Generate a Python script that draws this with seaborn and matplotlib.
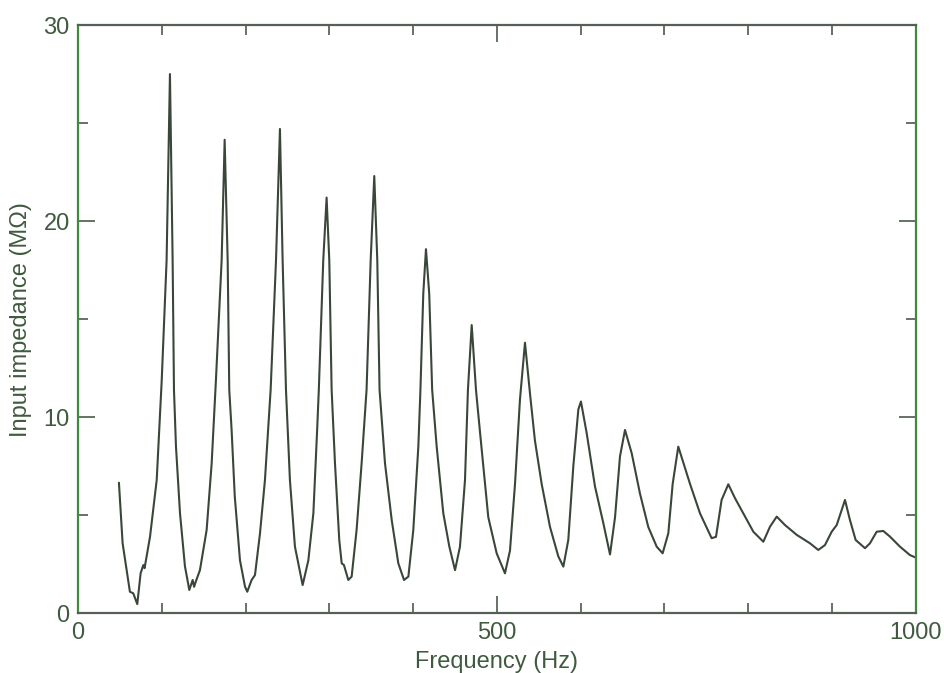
import matplotlib
matplotlib.use("Agg")
import matplotlib.pyplot as plt
from matplotlib.ticker import MultipleLocator, FixedLocator
import seaborn as sns
import pandas as pd

# Measured input impedance of the instrument versus driving frequency
frequency_hz = [
    48.9, 53.3, 62.0, 66.0, 70.8, 74.8, 78.0, 79.5, 86.0, 94.0,
    100.0, 105.8, 109.8, 113.0, 114.6, 117.0, 121.8, 127.7, 132.9, 136.9,
    138.6, 140.5, 145.6, 153.6, 159.6, 164.7, 171.5, 175.1, 178.7, 180.6,
    183.4, 187.2, 193.4, 199.4, 202.1, 207.3, 211.3, 217.3, 223.2, 230.0,
    236.4, 241.1, 244.3, 248.3, 253.0, 259.0, 268.2, 275.0, 281.0, 285.5,
    287.5, 292.8, 296.8, 300.0, 302.8, 306.8, 311.9, 314.8, 317.5, 322.7,
    326.7, 332.6, 338.6, 344.5, 349.4, 353.7, 357.3, 360.0, 366.5, 374.5,
    382.4, 389.2, 394.4, 400.3, 406.3, 408.8, 412.2, 415.4, 419.3, 422.8,
    428.2, 436.1, 443.3, 450.1, 456.0, 462.0, 465.5, 470.0, 475.1, 480.0,
    489.8, 499.8, 509.7, 515.7, 521.7, 527.6, 533.6, 539.6, 545.5, 553.5,
    563.5, 573.4, 579.4, 585.3, 591.3, 597.3, 600.4, 607.2, 617.2, 627.1,
    635.1, 641.1, 647.0, 653.0, 661.0, 670.9, 680.8, 690.8, 697.9, 704.7,
    709.9, 716.6, 726.6, 730.6, 742.5, 756.4, 761.6, 768.3, 776.3, 784.3,
    794.2, 806.2, 818.1, 826.1, 834.1, 844.0, 858.0, 873.8, 883.7, 891.7,
    899.7, 905.7, 910.4, 915.6, 921.5, 928.3, 939.5, 945.4, 953.4, 961.3,
    969.3, 981.2, 993.1, 999.0,
]
impedance_mohm = [
    6.66, 3.57, 1.10, 1.02, 0.47, 2.04, 2.46, 2.30, 3.90, 6.80,
    11.9, 18.0, 27.5, 18.0, 11.4, 8.50, 5.10, 2.40, 1.19, 1.70,
    1.35, 1.60, 2.20, 4.25, 7.65, 11.9, 18.0, 24.15, 18.0, 11.4,
    9.35, 5.95, 2.70, 1.36, 1.10, 1.70, 1.95, 4.08, 6.80, 11.4,
    18.0, 24.7, 18.0, 11.4, 6.80, 3.40, 1.44, 2.70, 5.10, 9.35,
    11.4, 18.0, 21.2, 18.0, 11.4, 7.65, 3.74, 2.55, 2.46, 1.70,
    1.87, 4.25, 7.65, 11.4, 18.0, 22.3, 18.0, 11.4, 7.65, 4.76,
    2.55, 1.70, 1.87, 4.25, 8.50, 11.4, 16.3, 18.57, 16.3, 11.4,
    8.50, 5.10, 3.40, 2.20, 3.40, 6.80, 11.4, 14.7, 11.4, 9.20,
    4.90, 3.06, 2.04, 3.20, 6.60, 10.9, 13.8, 11.2, 8.80, 6.60,
    4.40, 2.90, 2.38, 3.74, 7.50, 10.4, 10.8, 9.20, 6.46, 4.60,
    3.00, 4.90, 8.00, 9.35, 8.16, 6.10, 4.40, 3.40, 3.06, 4.08,
    6.60, 8.50, 7.14, 6.60, 5.10, 3.83, 3.90, 5.78, 6.58, 5.87,
    5.10, 4.16, 3.65, 4.42, 4.93, 4.50, 4.00, 3.57, 3.23, 3.48,
    4.16, 4.50, 5.10, 5.78, 4.76, 3.74, 3.32, 3.57, 4.16, 4.20,
    3.91, 3.40, 2.97, 2.86,
]

x_major_ticks = [0, 500, 1000]
x_tick_labels = ["0", "500", "1000"]
y_major_ticks = [0, 10, 20, 30]
y_tick_labels = ["0", "10", "20", "30"]

sns.set_style("ticks")
plt.rcParams["font.family"] = ["Liberation Sans", "DejaVu Sans"]

text_color = "#3f5a3f"
line_color = "#3a463a"

df = pd.DataFrame({"Frequency (Hz)": frequency_hz,
                   "Input impedance (MΩ)": impedance_mohm})

fig = plt.figure(figsize=(9.45, 6.73), dpi=100)
ax = fig.add_axes([0.0825, 0.0887, 0.8865, 0.8741])

sns.lineplot(data=df, x="Frequency (Hz)", y="Input impedance (MΩ)",
             ax=ax, color=line_color, linewidth=1.5, sort=False)

ax.set_xlim(0, 1000)
ax.set_ylim(0, 30)

ax.xaxis.set_major_locator(FixedLocator(x_major_ticks))
ax.set_xticklabels(x_tick_labels)
ax.xaxis.set_minor_locator(MultipleLocator(100))
ax.yaxis.set_major_locator(FixedLocator(y_major_ticks))
ax.set_yticklabels(y_tick_labels)
ax.yaxis.set_minor_locator(MultipleLocator(5))

ax.tick_params(axis="both", which="both", direction="in",
               top=True, right=True, colors="#4a5a4a",
               labelcolor=text_color, labelsize=17, width=1.2)
ax.tick_params(axis="both", which="major", length=12, pad=6)
ax.tick_params(axis="both", which="minor", length=7)

ax.set_xlabel("Frequency (Hz)", fontsize=17, color=text_color, labelpad=5)
ax.set_ylabel("Input impedance (MΩ)", fontsize=17, color=text_color, labelpad=8)

for side in ("left", "right"):
    ax.spines[side].set_color("#3f8a3f")
    ax.spines[side].set_linewidth(1.6)
for side in ("top", "bottom"):
    ax.spines[side].set_color("#555f55")
    ax.spines[side].set_linewidth(1.6)

fig.savefig("out.png", dpi=100)
